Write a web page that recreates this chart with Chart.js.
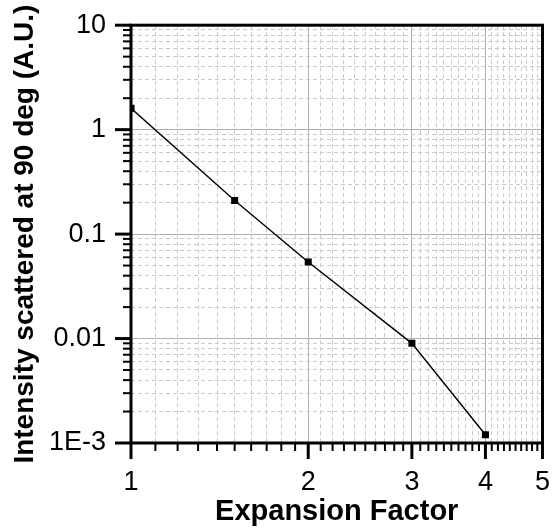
<!DOCTYPE html>
<html><head><meta charset="utf-8">
<script src="https://cdn.jsdelivr.net/npm/chart.js@4/dist/chart.umd.min.js"></script>
<style>html,body{margin:0;padding:0;background:#fff;}</style>
</head><body>
<canvas id="c" width="557" height="529" style="display:block;width:557px;height:529px"></canvas>
<script>
// ---- data ----
const expansionFactor = [1, 1.5, 2, 3, 4];
const intensity = [1.6, 0.21, 0.054, 0.009, 0.0012];
const xMajorTicks = [1, 2, 3, 4, 5];
const xMajorLabels = ['1', '2', '3', '4', '5'];
const yMajorTicks = [0.001, 0.01, 0.1, 1, 10];
const yMajorLabels = ['1E-3', '0.01', '0.1', '1', '10'];
const xTitle = 'Expansion Factor';
const yTitle = 'Intensity scattered at 90 deg (A.U.)';

// tick positions (major + minor)
const xAllTicks = [];
for (let i = 0; i < xMajorTicks.length - 1; i++) {
  for (let k = 0; k < 10; k++) xAllTicks.push(+(xMajorTicks[i] + k * (xMajorTicks[i + 1] - xMajorTicks[i]) / 10).toFixed(4));
}
xAllTicks.push(xMajorTicks[xMajorTicks.length - 1]);
const yAllTicks = [];
for (let i = 0; i < yMajorTicks.length - 1; i++) {
  for (let k = 1; k < 10; k++) yAllTicks.push(+(yMajorTicks[i] * k).toPrecision(4));
}
yAllTicks.push(yMajorTicks[yMajorTicks.length - 1]);

const near = (a, b) => Math.abs(a - b) <= Math.abs(b) * 1e-6;
const majorIdx = (arr, v) => arr.findIndex(m => near(v, m));

const FONT = "'Liberation Sans', Arial, sans-serif";

const framePlugin = {
  id: 'frame',
  afterDatasetsDraw(chart) {
    const { ctx, chartArea: a, scales: { x, y } } = chart;
    ctx.save();
    ctx.strokeStyle = '#000';
    x.ticks.forEach(t => {
      const major = majorIdx(xMajorTicks, t.value) >= 0;
      const px = x.getPixelForValue(t.value);
      ctx.lineWidth = major ? 3 : 2;
      ctx.beginPath();
      ctx.moveTo(px, a.bottom);
      ctx.lineTo(px, a.bottom + (major ? 16 : 8));
      ctx.stroke();
    });
    y.ticks.forEach(t => {
      const major = majorIdx(yMajorTicks, t.value) >= 0;
      const py = y.getPixelForValue(t.value);
      ctx.lineWidth = major ? 3 : 2;
      ctx.beginPath();
      ctx.moveTo(a.left, py);
      ctx.lineTo(a.left - (major ? 16 : 8), py);
      ctx.stroke();
    });
    ctx.lineWidth = 3;
    ctx.strokeRect(a.left, a.top, a.right - a.left, a.bottom - a.top);
    ctx.restore();
  }
};

new Chart(document.getElementById('c'), {
  type: 'line',
  data: {
    datasets: [{
      data: expansionFactor.map((x, i) => ({ x, y: intensity[i] })),
      borderColor: '#000',
      borderWidth: 1.4,
      backgroundColor: '#000',
      pointStyle: 'rect',
      pointRadius: 5,
      pointBorderWidth: 0,
      tension: 0
    }]
  },
  options: {
    responsive: false,
    animation: false,
    devicePixelRatio: 1,
    layout: { padding: { left: 0, top: 25, right: 9, bottom: 0 } },
    plugins: { legend: { display: false }, tooltip: { enabled: false } },
    scales: {
      x: {
        type: 'logarithmic',
        min: 1, max: 5,
        afterBuildTicks: s => { s.ticks = xAllTicks.map(v => ({ value: v })); },
        afterFit: s => { s.height = 86; },
        ticks: {
          autoSkip: false, maxRotation: 0, padding: 7,
          color: '#000',
          font: { family: FONT, size: 27 },
          callback: v => { const i = majorIdx(xMajorTicks, v); return i >= 0 ? xMajorLabels[i] : ''; }
        },
        grid: {
          color: c => (c.tick && majorIdx(xMajorTicks, c.tick.value) >= 0) ? '#b0b0b0' : '#cacaca',
          lineWidth: 1,
          tickColor: 'transparent',
          tickLength: 16
        },
        border: {
          display: false,
          dash: c => (c.tick && majorIdx(xMajorTicks, c.tick.value) < 0) ? [4, 3] : []
        },
        title: {
          display: true, text: xTitle, color: '#000', padding: 0,
          font: { family: FONT, size: 29, weight: 'bold' }
        }
      },
      y: {
        type: 'logarithmic',
        min: 0.001, max: 10,
        afterBuildTicks: s => { s.ticks = yAllTicks.map(v => ({ value: v })); },
        afterFit: s => { s.width = 131; },
        ticks: {
          autoSkip: false, padding: 9,
          color: '#000',
          font: { family: FONT, size: 27 },
          callback: v => { const i = majorIdx(yMajorTicks, v); return i >= 0 ? yMajorLabels[i] : ''; }
        },
        grid: {
          color: c => (c.tick && majorIdx(yMajorTicks, c.tick.value) >= 0) ? '#b0b0b0' : '#cacaca',
          lineWidth: 1,
          tickColor: 'transparent',
          tickLength: 16
        },
        border: {
          display: false,
          dash: c => (c.tick && majorIdx(yMajorTicks, c.tick.value) < 0) ? [4, 3] : []
        },
        title: {
          display: true, text: yTitle, color: '#000', padding: { top: 8, bottom: 0 },
          font: { family: FONT, size: 28, weight: 'bold' }
        }
      }
    }
  },
  plugins: [framePlugin]
});
</script>
</body></html>
